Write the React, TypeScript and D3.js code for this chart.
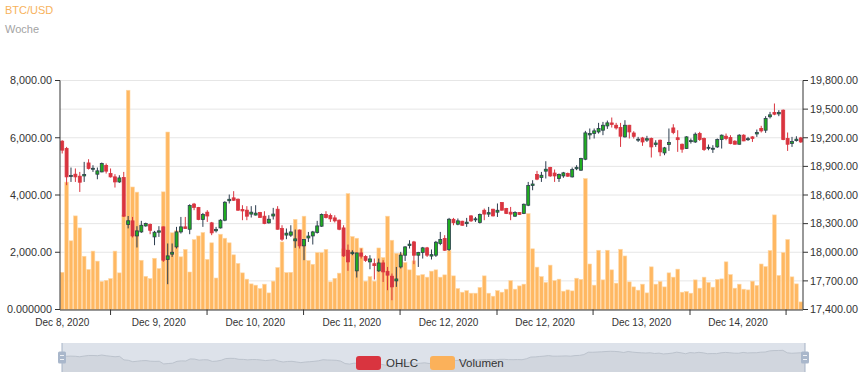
import React from "react";
import * as d3 from "d3";

const opens = [19164,19087,18795,18818,18797,18800,18936,18870,18818,18842,18910,18825,18790,18737,18783,18290,18329,18171,18213,18276,18290,18161,18210,18266,17924,17980,18056,18213,18266,18241,18505,18469,18343,18420,18308,18225,18255,18336,18540,18570,18556,18448,18441,18400,18390,18416,18378,18308,18380,18451,18249,18180,18179,18120,18231,18067,18150,18171,18207,18273,18396,18385,18360,18336,18255,18021,17985,17805,17993,17955,17899,17880,17805,17888,17800,17749,17700,17846,17969,18070,18108,17969,17997,18046,17960,17969,18092,18144,18029,18345,18294,18325,18300,18381,18340,18312,18440,18400,18451,18420,18521,18458,18420,18378,18416,18406,18493,18700,18815,18783,18850,18888,18830,18773,18800,18825,18790,18875,18860,18975,19230,19244,19261,19279,19324,19355,19331,19307,19209,19331,19250,19175,19198,19175,19192,19130,19174,19041,19130,19303,19200,19132,19087,19160,19156,19244,19192,19090,19080,19104,19181,19216,19202,19164,19132,19227,19180,19209,19240,19297,19279,19420,19465,19450,19489,19192,19140,19170,19198];
const highs = [19174,19104,18888,18878,18842,18947,18975,18912,18888,18940,18930,18878,18818,18807,18842,18380,18370,18273,18329,18310,18301,18224,18273,18270,18092,18092,18266,18370,18370,18503,18517,18475,18412,18441,18318,18266,18346,18535,18605,18640,18563,18493,18483,18483,18493,18423,18430,18388,18465,18483,18283,18249,18283,18238,18238,18134,18213,18224,18329,18406,18430,18406,18388,18343,18283,18081,18021,17995,18039,17969,17969,17934,17934,17917,17846,17777,17846,18004,18063,18126,18119,18004,18056,18056,18029,18119,18213,18179,18360,18360,18354,18330,18360,18388,18370,18406,18458,18475,18455,18511,18525,18465,18475,18430,18420,18510,18737,18755,18853,18842,18954,18895,18867,18825,18842,18835,18888,18912,18990,19272,19297,19297,19356,19366,19380,19412,19356,19356,19384,19335,19268,19209,19209,19220,19202,19174,19181,19104,19297,19342,19279,19139,19216,19192,19255,19262,19202,19129,19122,19192,19234,19244,19227,19174,19237,19237,19209,19216,19286,19325,19426,19471,19559,19489,19496,19255,19209,19216,19209];
const lows = [19035,18703,18737,18737,18632,18737,18867,18842,18765,18838,18825,18783,18678,18727,18370,18250,18155,18050,18203,18268,18189,18074,18161,17899,17665,17951,18039,18196,18245,18189,18441,18336,18266,18318,18179,18207,18249,18325,18511,18538,18433,18336,18336,18364,18385,18364,18294,18301,18343,18238,18119,18137,18161,18046,18039,17917,18108,18081,18196,18266,18354,18318,18312,18231,17951,17805,17969,17735,17934,17899,17822,17714,17794,17689,17602,17497,17637,17830,17909,18039,17875,17846,17934,17951,17924,17951,18074,18014,18014,18283,18283,18278,18266,18318,18318,18301,18336,18370,18375,18370,18436,18400,18336,18370,18390,18400,18483,18650,18755,18737,18773,18790,18737,18737,18780,18790,18783,18860,18853,18965,19182,19192,19244,19227,19293,19307,19286,19104,19202,19192,19192,19156,19115,19156,18993,19104,19007,19017,19062,19237,19052,19043,19083,19139,19146,19167,19062,19069,19041,19094,19087,19174,19132,19129,19129,19164,19167,19156,19209,19255,19251,19402,19436,19426,19174,19062,19104,19160,19146];
const closes = [19070,18790,18805,18790,18734,18815,18878,18880,18853,18930,18850,18790,18737,18779,18378,18330,18171,18224,18283,18301,18230,18210,18224,17917,17962,18000,18213,18266,18249,18490,18470,18343,18396,18380,18203,18240,18336,18524,18555,18545,18441,18433,18378,18420,18410,18364,18301,18346,18400,18241,18137,18200,18213,18140,18067,18134,18170,18213,18276,18396,18364,18350,18329,18241,17962,17899,18000,17993,17959,17915,17930,17860,17888,17794,17760,17637,17720,17969,18056,18085,17969,17997,18046,17969,17975,18105,18134,18021,18346,18310,18329,18283,18315,18329,18350,18396,18400,18415,18381,18440,18441,18406,18400,18416,18396,18503,18700,18715,18766,18807,18870,18800,18800,18815,18832,18797,18867,18890,18982,19251,19245,19272,19297,19331,19356,19340,19303,19216,19331,19261,19215,19185,19156,19190,19104,19145,19052,19094,19150,19255,19180,19080,19209,19170,19237,19181,19077,19100,19090,19181,19227,19192,19139,19132,19227,19167,19190,19192,19255,19272,19402,19440,19447,19465,19181,19132,19160,19185,19156];
const volumes = [1300,4450,2400,3270,2850,1860,1400,2040,1690,980,1020,1080,2040,1280,3300,7660,4280,4100,1720,1160,1080,1790,1430,4110,6200,2680,2750,1840,2100,1310,2440,2570,2690,1750,2330,1100,2630,2490,2330,1910,1610,1280,1060,895,850,733,885,580,990,1467,2360,1290,1300,3150,2800,3260,1710,1580,1990,1990,2100,965,1090,1270,2120,4050,2550,2490,2150,990,1150,990,2150,1815,3260,2420,1965,1965,1640,1385,1700,1190,1220,1130,1340,1385,1130,1210,2070,1175,733,605,660,570,570,770,1175,570,465,660,605,710,1010,710,825,885,3350,2120,1480,1150,945,1550,1010,1060,640,685,650,1093,1050,4575,1590,850,2070,1035,2070,1385,920,2105,1870,965,790,675,885,580,1490,885,980,790,1280,1130,1410,605,630,570,1035,745,1130,945,780,1050,1070,1665,1220,745,885,710,685,990,840,1590,1500,2060,3305,1190,1990,2445,1140,895,265];

// bar index at which each day boundary falls (date axis ticks)
const dayStarts = [11.5, 33.45, 55.4, 77.35, 99.4, 121.25, 143.3, 165.15];
const dayLabels = ["Dec 8, 2020", "Dec 9, 2020", "Dec 10, 2020", "Dec 11, 2020", "Dec 12, 2020", "Dec 12, 2020", "Dec 13, 2020", "Dec 14, 2020"];
const volTicks = [0, 2000, 4000, 6000, 8000];
const volTickLabels = ["0.000000", "2,000.00", "4,000.00", "6,000.00", "8,000.00"];
const priceTicks = [17400, 17700, 18000, 18300, 18600, 18900, 19200, 19500, 19800];

const title = "BTC/USD";
const subtitle = "Woche";
const seriesNames = ["OHLC", "Volumen"];

const FONT = "'Liberation Sans', Arial, Helvetica, sans-serif";
const RED = "#d9343f";
const GREEN = "#1fae1f";
const DARK = "#2d3d4f";
const ORANGE = "#ffb862";
const ORANGE_EDGE = "#ffd8a6";

export default function App() {
  const W = 862, H = 380;
  const left = 60, right = 803, top = 80.5, bottom = 309.5;
  const N = closes.length;
  const x = d3.scaleLinear().domain([0, N]).range([left, right]);
  const band = x(1) - x(0);
  const yVol = d3.scaleLinear().domain([0, 8000]).range([bottom, top]);
  const yP = d3.scaleLinear().domain([17400, 19800]).range([bottom, top]);
  const fmt = d3.format(",.2f");

  // scrollbar
  const sx0 = 62, sx1 = 805, sy0 = 343, sy1 = 372;
  const xs = d3.scaleLinear().domain([0, N - 1]).range([sx0, sx1]);
  const ys = d3.scaleLinear().domain([17000, 20300]).range([sy1, sy0]);
  const idx = d3.range(N);
  const sLine = d3.line<number>().x((i) => xs(i)).y((i) => ys(closes[i]))(idx) || "";
  const sArea = d3.area<number>().x((i) => xs(i)).y0(sy1).y1((i) => ys(closes[i]))(idx) || "";

  const bodyW = band * 0.68;

  return (
    <svg width={W} height={H} style={{ position: "absolute", left: 0, top: 0, background: "#fff" }} fontFamily={FONT}>
      <text x={5} y={13.5} fontSize={11} fill="#f7b25c">{title}</text>
      <text x={5} y={33.3} fontSize={11} fill="#a3a3a3">{subtitle}</text>

      {/* grid */}
      {priceTicks.map((p) => (
        <line key={"g" + p} x1={left} x2={right} y1={yP(p)} y2={yP(p)} stroke="#e6e6e6" strokeWidth={1} />
      ))}

      {/* volume bars */}
      {volumes.map((v, i) => (
        <rect key={"v" + i} x={x(i) + 0.35} y={yVol(v)} width={band - 0.7} height={bottom - yVol(v)}
          fill={ORANGE} stroke={ORANGE_EDGE} strokeWidth={0.6} />
      ))}

      {/* candles */}
      {closes.map((c, i) => {
        const o = opens[i];
        const rising = c >= o;
        const cx = x(i) + band / 2;
        const yTop = yP(Math.max(o, c));
        let yBot = yP(Math.min(o, c));
        if (yBot - yTop < 1) yBot = yTop + 1;
        const col = rising ? DARK : RED;
        return (
          <g key={"c" + i}>
            <line x1={cx} x2={cx} y1={yP(highs[i])} y2={yP(lows[i])} stroke={col} strokeWidth={1} />
            <rect x={cx - bodyW / 2} y={yTop} width={bodyW} height={yBot - yTop}
              fill={rising ? GREEN : RED} stroke={col} strokeWidth={0.8} />
          </g>
        );
      })}

      {/* left axis */}
      <line x1={left} x2={left} y1={top} y2={bottom} stroke="#333" strokeWidth={1} />
      {volTicks.map((t, k) => (
        <g key={"lt" + t}>
          <line x1={left - 5} x2={left} y1={yVol(t)} y2={yVol(t)} stroke="#333" />
          <text x={52} y={yVol(t) + 3.8} fontSize={10.8} fill="#333" textAnchor="end">{volTickLabels[k]}</text>
        </g>
      ))}

      {/* right axis */}
      <line x1={right} x2={right} y1={top} y2={bottom} stroke="#333" strokeWidth={1} />
      {priceTicks.map((p) => (
        <g key={"rt" + p}>
          <line x1={right} x2={right + 5} y1={yP(p)} y2={yP(p)} stroke="#333" />
          <text x={810} y={yP(p) + 3.8} fontSize={10.8} fill="#333">{fmt(p)}</text>
        </g>
      ))}

      {/* bottom axis */}
      <line x1={left} x2={right} y1={bottom + 0.5} y2={bottom + 0.5} stroke="#333" strokeWidth={1} />
      {dayStarts.map((d, k) => {
        const prev = k === 0 ? d - (dayStarts[1] - dayStarts[0]) : dayStarts[k - 1];
        const mid = (x(prev) + x(d)) / 2;
        return (
          <g key={"xt" + k}>
            <line x1={x(d)} x2={x(d)} y1={bottom} y2={bottom + 5.5} stroke="#333" />
            <text x={mid} y={326} fontSize={10} fill="#333" textAnchor="middle">{dayLabels[k]}</text>
          </g>
        );
      })}

      {/* scrollbar */}
      <rect x={sx0} y={sy0} width={sx1 - sx0} height={sy1 - sy0} fill="#dde2ea" />
      <path d={sArea} fill="#d1d6de" />
      <path d={sLine} fill="none" stroke="#bcc3cd" strokeWidth={1} />
      <line x1={sx0} x2={sx0} y1={sy0} y2={sy1} stroke="#a6b3c6" strokeWidth={1} />
      <line x1={sx1} x2={sx1} y1={sy0} y2={sy1} stroke="#a6b3c6" strokeWidth={1} />
      {[sx0, sx1].map((hx, k) => (
        <g key={"h" + k}>
          <rect x={hx - 4} y={351.5} width={8} height={12} rx={1.5} fill="#a9b7cb" />
          <line x1={hx - 2} x2={hx + 2} y1={355.5} y2={355.5} stroke="#eef1f5" strokeWidth={1} />
          <line x1={hx - 2} x2={hx + 2} y1={359.5} y2={359.5} stroke="#eef1f5" strokeWidth={1} />
        </g>
      ))}

      {/* legend */}
      <rect x={356} y={356} width={25} height={14} rx={3} fill={RED} />
      <text x={386} y={367} fontSize={11.5} fill="#333">{seriesNames[0]}</text>
      <rect x={430} y={356} width={25} height={14} rx={3} fill="#fbb15a" />
      <text x={459} y={367} fontSize={11.5} fill="#333">{seriesNames[1]}</text>
    </svg>
  );
}
